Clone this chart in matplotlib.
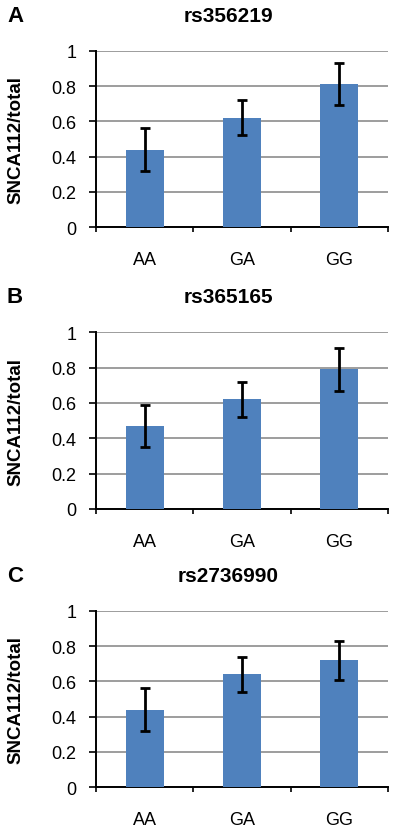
import matplotlib
matplotlib.use("Agg")
import matplotlib.pyplot as plt

plt.rcParams['font.family'] = ['Liberation Sans', 'DejaVu Sans']

categories = ["AA", "GA", "GG"]
panel_letters = ["A", "B", "C"]
titles = ["rs356219", "rs365165", "rs2736990"]
means_A = [0.44, 0.62, 0.81]
errs_A = [0.12, 0.10, 0.12]
means_B = [0.47, 0.62, 0.79]
errs_B = [0.12, 0.10, 0.12]
means_C = [0.44, 0.64, 0.72]
errs_C = [0.12, 0.10, 0.11]
yticks = [0, 0.2, 0.4, 0.6, 0.8, 1]
ytick_labels = ["0", "0.2", "0.4", "0.6", "0.8", "1"]
ylabel = "SNCA112/total"

W, H = 400, 829
fig = plt.figure(figsize=(W / 100, H / 100), dpi=100)

# pixel boxes (top, bottom) for each panel; title y
panels = [
    (51.7, 228.3, 17, means_A, errs_A),
    (333.3, 510.0, 298, means_B, errs_B),
    (611.7, 788.3, 577, means_C, errs_C),
]
left_px, right_px = 96, 388

for i, (top, bot, ty, means, errs) in enumerate(panels):
    ax = fig.add_axes([left_px / W, 1 - bot / H, (right_px - left_px) / W, (bot - top) / H])
    x = list(range(len(categories)))
    ax.bar(x, means, width=0.39, color="#4F81BD", zorder=3)
    ax.errorbar(x, means, yerr=errs, fmt="none", ecolor="black", elinewidth=2,
                capsize=3.8, capthick=2, zorder=4)
    ax.set_xlim(-0.5, len(categories) - 0.5)
    ax.set_ylim(0, 1)
    ax.set_yticks(yticks)
    ax.set_yticklabels(ytick_labels, fontsize=13)
    ax.yaxis.grid(True, color="#8c8c8c", linewidth=1.2, zorder=0)
    ax.set_axisbelow(True)
    ax.set_xticks([-0.5, 0.5, 1.5, 2.5])
    ax.set_xticklabels([])
    ax.set_xticks(x, minor=True)
    ax.set_xticklabels(categories, minor=True, fontsize=13)
    ax.tick_params(axis="x", which="major", direction="out", length=3.6, width=1.2)
    ax.tick_params(axis="x", which="minor", length=0, pad=17)
    ax.tick_params(axis="y", direction="out", length=5, width=1.2, pad=9)
    for s in ["top", "right"]:
        ax.spines[s].set_visible(False)
    for s in ["left", "bottom"]:
        ax.spines[s].set_linewidth(1.4)
        ax.spines[s].set_color("black")
    ax.set_ylabel(ylabel, fontsize=13.5, fontweight="bold")
    ax.yaxis.set_label_coords(-0.245, 0.5)
    fig.text(228 / W, 1 - ty / H, titles[i], fontsize=15, fontweight="bold",
             ha="center", va="center")
    fig.text(15 / W, 1 - ty / H, panel_letters[i], fontsize=16, fontweight="bold",
             ha="center", va="center")

fig.savefig("out.png", dpi=100, facecolor="white")
